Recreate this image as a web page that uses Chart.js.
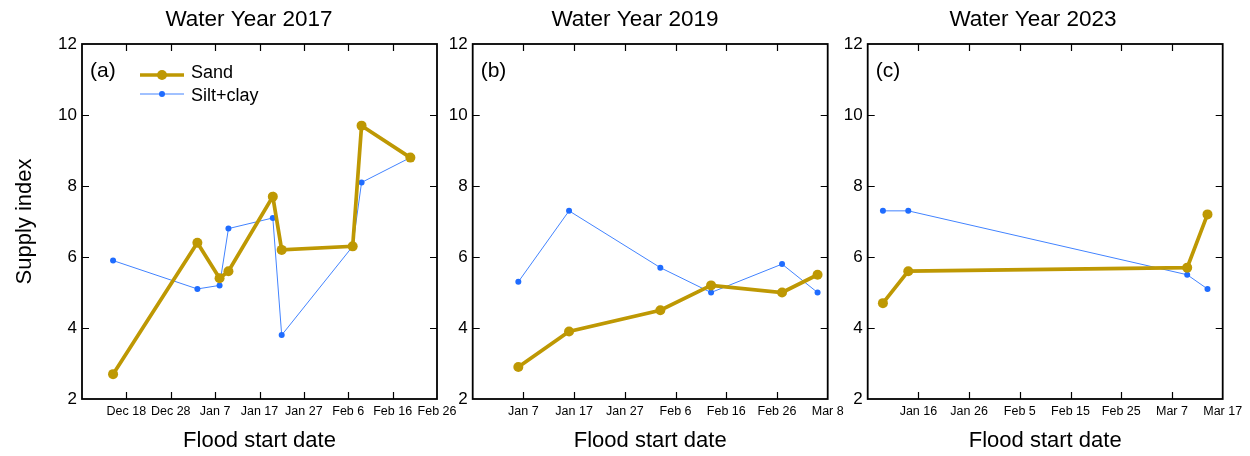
<!DOCTYPE html>
<html>
<head>
<meta charset="utf-8">
<script src="https://cdn.jsdelivr.net/npm/chart.js@4/dist/chart.umd.min.js"></script>
<style>
  html, body { margin: 0; padding: 0; background: #fff; }
  #wrap { position: relative; width: 1250px; height: 456px; overflow: hidden; }
  canvas { position: absolute; top: 0; }
</style>
</head>
<body>
<div id="wrap">
  <canvas id="wy2017" width="498" height="456" style="left:0px"></canvas>
  <canvas id="wy2019" width="430" height="456" style="left:420px"></canvas>
  <canvas id="wy2023" width="430" height="456" style="left:818px"></canvas>
</div>
<script>
// Flood start dates with sand and silt+clay supply indices, per water year
const floodDates2017 = ['2016-12-15', '2017-01-03', '2017-01-08', '2017-01-10', '2017-01-20',
                        '2017-01-22', '2017-02-07', '2017-02-09', '2017-02-20'];
const sand2017 = [2.7, 6.4, 5.4, 5.6, 7.7, 6.2, 6.3, 9.7, 8.8];
const silt2017 = [5.9, 5.1, 5.2, 6.8, 7.1, 3.8, 6.3, 8.1, 8.8];

const floodDates2019 = ['2019-01-06', '2019-01-16', '2019-02-03', '2019-02-13', '2019-02-27', '2019-03-06'];
const sand2019 = [2.9, 3.9, 4.5, 5.2, 5.0, 5.5];
const silt2019 = [5.3, 7.3, 5.7, 5.0, 5.8, 5.0];

const floodDates2023 = ['2023-01-09', '2023-01-14', '2023-03-10', '2023-03-14'];
const sand2023 = [4.7, 5.6, 5.7, 7.2];
const silt2023 = [7.3, 7.3, 5.5, 5.1];

// Date window of each panel's x axis, and tick spacing
const axisStart2017 = '2016-12-08', axisEnd2017 = '2017-02-26';
const axisStart2019 = '2018-12-28', axisEnd2019 = '2019-03-08';
const axisStart2023 = '2023-01-06', axisEnd2023 = '2023-03-17';
const dateTickStepDays = 10;

// Supply index axis
const yMin = 2, yMax = 12, yStep = 2;

const monthNames = ['Jan', 'Feb', 'Mar', 'Apr', 'May', 'Jun', 'Jul', 'Aug', 'Sep', 'Oct', 'Nov', 'Dec'];
const SAND_COLOR = '#BE9803';
const SILT_LINE = '#4283FF';
const SILT_POINT = '#1F6CFF';
const BASE_FONT = '"Liberation Sans", Arial, sans-serif';

function dayNumber(iso) {
  const [y, m, d] = iso.split('-').map(Number);
  return Date.UTC(y, m - 1, d) / 86400000;
}

function dateLabel(origin, offset) {
  const dt = new Date((origin + offset) * 86400000);
  return monthNames[dt.getUTCMonth()] + ' ' + dt.getUTCDate();
}

// Box around the plotting area with inward tick marks on all four sides
const framePlugin = {
  id: 'frame',
  beforeDatasetsDraw(chart) {
    const { ctx, chartArea: a, scales: { x, y } } = chart;
    ctx.save();
    ctx.strokeStyle = '#000';
    ctx.lineWidth = 1.2;
    ctx.beginPath();
    x.ticks.forEach(t => {
      const px = Math.round(x.getPixelForValue(t.value)) + 0.5;
      if (px <= a.left + 2 || px >= a.right - 2) return;
      ctx.moveTo(px, a.bottom); ctx.lineTo(px, a.bottom - 7);
      ctx.moveTo(px, a.top); ctx.lineTo(px, a.top + 7);
    });
    y.ticks.forEach(t => {
      const py = Math.round(y.getPixelForValue(t.value)) + 0.5;
      if (py <= a.top + 2 || py >= a.bottom - 2) return;
      ctx.moveTo(a.left, py); ctx.lineTo(a.left + 7, py);
      ctx.moveTo(a.right, py); ctx.lineTo(a.right - 7, py);
    });
    ctx.stroke();
    ctx.lineWidth = 1.8;
    ctx.strokeRect(a.left, a.top, a.right - a.left, a.bottom - a.top);
    ctx.restore();
  },
  afterDraw(chart, args, opts) {
    const { ctx, chartArea: a } = chart;
    ctx.save();
    ctx.fillStyle = '#000';
    ctx.font = '21px ' + BASE_FONT;
    ctx.textAlign = 'left';
    ctx.textBaseline = 'middle';
    ctx.fillText(opts.letter, a.left + 8, a.top + 27);
    ctx.restore();
  }
};

// Legend drawn inside the plotting area, one row per series
const insetLegend = {
  id: 'insetLegend',
  afterDraw(chart, args, opts) {
    if (!opts.show) return;
    const { ctx, chartArea: a } = chart;
    ctx.save();
    chart.data.datasets.forEach((ds, i) => {
      const yy = a.top + 31 + i * 19;
      const x0 = a.left + 58, x1 = a.left + 102;
      ctx.strokeStyle = ds.borderColor;
      ctx.lineWidth = ds.borderWidth;
      ctx.beginPath();
      ctx.moveTo(x0, yy); ctx.lineTo(x1, yy);
      ctx.stroke();
      ctx.fillStyle = ds.pointBackgroundColor;
      ctx.beginPath();
      ctx.arc((x0 + x1) / 2, yy, ds.pointRadius, 0, Math.PI * 2);
      ctx.fill();
      ctx.fillStyle = '#000';
      ctx.font = '18px ' + BASE_FONT;
      ctx.textAlign = 'left';
      ctx.textBaseline = 'middle';
      ctx.fillText(ds.label, a.left + 109, yy + (i === 0 ? -2 : 2));
    });
    ctx.restore();
  }
};

function makePanel(canvasId, cfg) {
  const origin = dayNumber(cfg.start);
  const span = dayNumber(cfg.end) - origin;
  const toPoints = (dates, vals) => dates.map((d, i) => ({ x: dayNumber(d) - origin, y: vals[i] }));

  return new Chart(document.getElementById(canvasId), {
    type: 'line',
    data: {
      datasets: [
        {
          label: 'Sand',
          data: toPoints(cfg.dates, cfg.sand),
          borderColor: SAND_COLOR,
          backgroundColor: SAND_COLOR,
          pointBackgroundColor: SAND_COLOR,
          borderWidth: 3.7,
          pointRadius: 5,
          pointBorderWidth: 0,
          tension: 0
        },
        {
          label: 'Silt+clay',
          data: toPoints(cfg.dates, cfg.silt),
          borderColor: SILT_LINE,
          backgroundColor: SILT_POINT,
          pointBackgroundColor: SILT_POINT,
          borderWidth: 1,
          pointRadius: 3,
          pointBorderWidth: 0,
          tension: 0
        }
      ]
    },
    options: {
      responsive: false,
      animation: false,
      layout: { padding: 0 },
      plugins: {
        legend: { display: false },
        tooltip: { enabled: false },
        title: {
          display: true,
          text: cfg.title,
          color: '#000',
          font: { family: BASE_FONT, size: 22.5, weight: 'normal' },
          padding: { top: 6.5, bottom: 10.5 }
        },
        frame: { letter: cfg.letter },
        insetLegend: { show: cfg.legend }
      },
      scales: {
        x: {
          type: 'linear',
          min: 0,
          max: span,
          grid: { display: false, drawTicks: false },
          border: { display: false },
          afterFit(scale) { scale.height = 57; },
          ticks: {
            stepSize: dateTickStepDays,
            autoSkip: false,
            maxRotation: 0,
            padding: 5,
            color: '#000',
            font: { family: BASE_FONT, size: 12.5 },
            callback: v => (Math.round(v) === 0 ? '' : dateLabel(origin, Math.round(v)))
          },
          title: {
            display: true,
            text: 'Flood start date',
            color: '#000',
            font: { family: BASE_FONT, size: 22 },
            padding: { top: 0, bottom: 1.5 }
          }
        },
        y: {
          min: yMin,
          max: yMax,
          grid: { display: false, drawTicks: false },
          border: { display: false },
          afterFit(scale) { scale.width = cfg.yAxisWidth; },
          ticks: {
            stepSize: yStep,
            padding: 5,
            color: '#000',
            font: { family: BASE_FONT, size: 17 }
          },
          title: {
            display: cfg.yTitle,
            text: 'Supply index',
            color: '#000',
            font: { family: BASE_FONT, size: 22 },
            padding: { top: 12, bottom: 0 }
          }
        },
        // empty right-hand margin so the panel title sits over the whole panel
        margin: {
          position: 'right',
          grid: { display: false, drawTicks: false },
          border: { display: false },
          ticks: { display: false },
          afterFit(scale) { scale.width = cfg.rightMargin; }
        }
      }
    },
    plugins: [framePlugin, insetLegend]
  });
}

makePanel('wy2017', {
  title: 'Water Year 2017', letter: '(a)', legend: true, yTitle: true,
  dates: floodDates2017, sand: sand2017, silt: silt2017,
  start: axisStart2017, end: axisEnd2017, yAxisWidth: 82, rightMargin: 61
});
makePanel('wy2019', {
  title: 'Water Year 2019', letter: '(b)', legend: false, yTitle: false,
  dates: floodDates2019, sand: sand2019, silt: silt2019,
  start: axisStart2019, end: axisEnd2019, yAxisWidth: 52.7, rightMargin: 22.3
});
makePanel('wy2023', {
  title: 'Water Year 2023', letter: '(c)', legend: false, yTitle: false,
  dates: floodDates2023, sand: sand2023, silt: silt2023,
  start: axisStart2023, end: axisEnd2023, yAxisWidth: 49.7, rightMargin: 25.3
});
</script>
</body>
</html>
